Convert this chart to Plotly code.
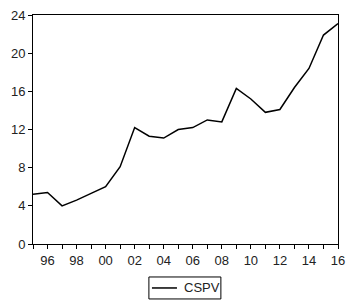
import plotly.graph_objects as go

years = list(range(1995, 2017))
cspv = [5.2, 5.4, 4.0, 4.6, 5.3, 6.0, 8.1, 12.2, 11.3, 11.1, 12.0, 12.2,
        13.0, 12.8, 16.3, 15.2, 13.8, 14.1, 16.4, 18.4, 21.9, 23.1]
series_name = "CSPV"
y_ticks = [0, 4, 8, 12, 16, 20, 24]
x_labels = [("%02d" % (y % 100)) if y % 2 == 0 else "" for y in years]

fig = go.Figure()
fig.add_trace(go.Scatter(x=years, y=cspv, mode="lines", name=series_name,
                         line=dict(color="black", width=1.5), showlegend=False))

# legend box drawn manually (paper coordinates)
fig.add_shape(type="rect", xref="paper", yref="paper",
              x0=0.380, x1=0.616, y0=-0.240, y1=-0.144,
              line=dict(color="black", width=1), fillcolor="white")
fig.add_shape(type="line", xref="paper", yref="paper",
              x0=0.390, x1=0.472, y0=-0.192, y1=-0.192,
              line=dict(color="black", width=1.5))
fig.add_annotation(text=series_name, xref="paper", yref="paper",
                   x=0.487, y=-0.192, xanchor="left", yanchor="middle",
                   showarrow=False, font=dict(size=13, color="#222"))

fig.update_layout(
    width=346, height=302,
    margin=dict(l=33, r=8, t=15, b=58, autoexpand=False),
    paper_bgcolor="white", plot_bgcolor="white",
    font=dict(family="Liberation Sans, Arial, sans-serif", size=13, color="#222"),
    showlegend=False,
    xaxis=dict(range=[1995, 2016], tickvals=years, ticktext=x_labels,
               ticks="outside", ticklen=4, tickcolor="black",
               showline=True, linecolor="black", linewidth=1, mirror=True,
               showgrid=False, zeroline=False, automargin=False,
               ticklabeloverflow="allow"),
    yaxis=dict(range=[0, 24], tickvals=y_ticks,
               ticks="outside", ticklen=4, tickcolor="black",
               showline=True, linecolor="black", linewidth=1, mirror=True,
               showgrid=False, zeroline=False, automargin=False,
               ticklabeloverflow="allow"),
)

fig.write_html("out.html", config={"displayModeBar": False},
               post_script="document.body.style.margin='0';document.body.style.overflow='hidden';")
